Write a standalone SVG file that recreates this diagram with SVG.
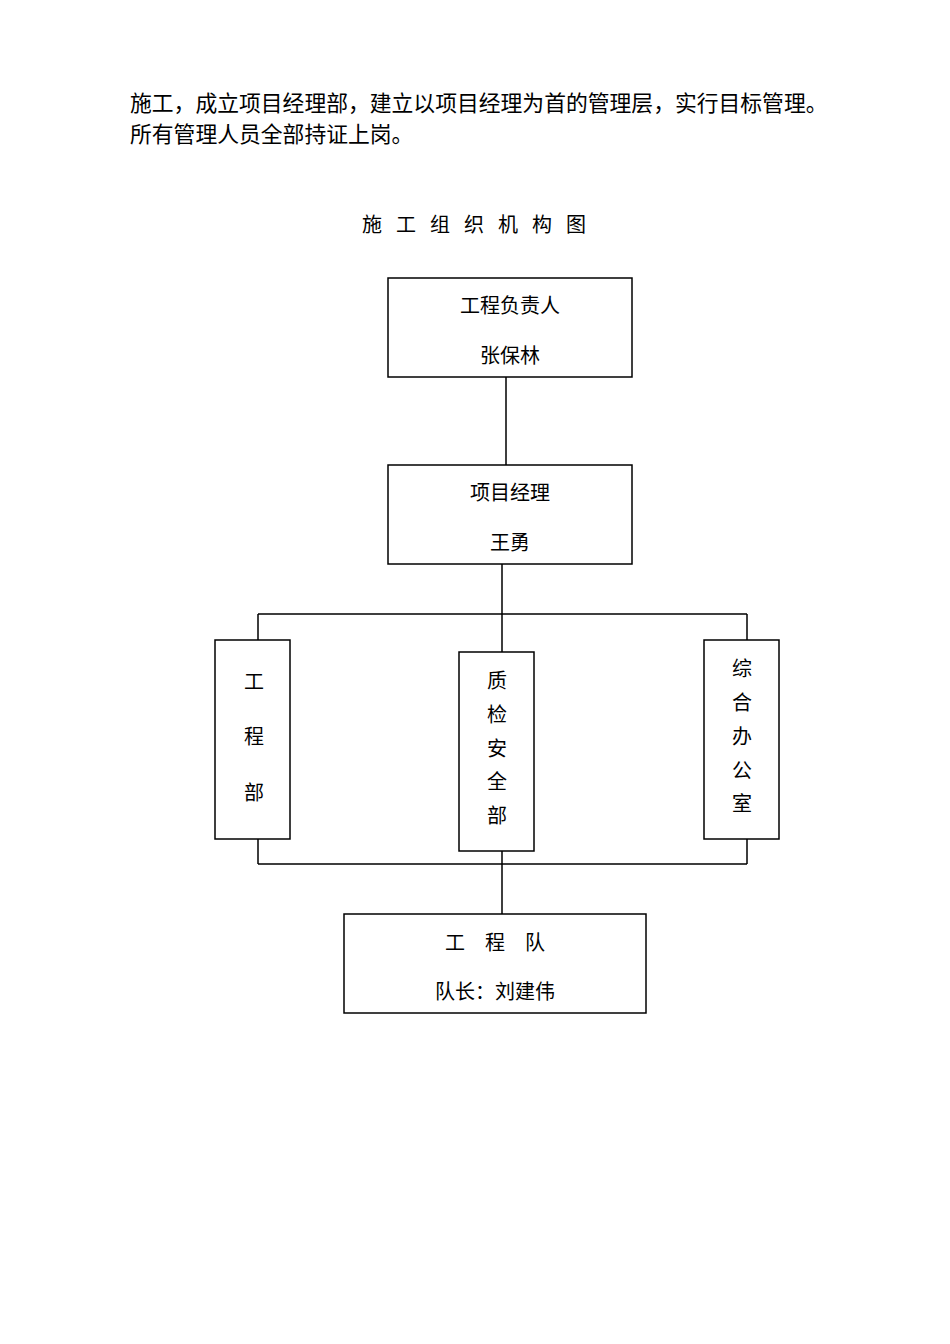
<svg xmlns="http://www.w3.org/2000/svg" width="950" height="1344" viewBox="0 0 950 1344">
<style>
text{font-family:"Liberation Serif","Noto Sans CJK SC",serif;font-size:20px;fill:#000}
.c{text-anchor:middle}
.p{font-size:21.8px}
.b{fill:none;stroke:#000;stroke-width:1.5}
.l{stroke:#000;stroke-width:1.5;fill:none}
</style>
<rect width="950" height="1344" fill="#fff"/>
<text class="p" x="130" y="111">施工，成立项目经理部，建立以项目经理为首的管理层，实行目标管理。</text>
<text class="p" x="130" y="142">所有管理人员全部持证上岗。</text>
<text x="362" y="232" style="letter-spacing:14px">施工组织机构图</text>
<g id="connectors">
<path class="l" d="M506 377V465M502 564V614M258 614H747M258 614V640M502 614V652M747 614V640M258 839V864M747 839V864M502 851V914M258 864H747"/>
</g>
<g id="n1"><rect class="b" x="388" y="278" width="244" height="99"/><text class="c" x="510" y="313">工程负责人</text><text class="c" x="510" y="363">张保林</text></g>
<g id="n2"><rect class="b" x="388" y="465" width="244" height="99"/><text class="c" x="510" y="500">项目经理</text><text class="c" x="510" y="550">王勇</text></g>
<g id="n3"><rect class="b" x="215" y="640" width="75" height="199"/><text class="c" x="254" y="689">工</text><text class="c" x="254" y="744">程</text><text class="c" x="254" y="800">部</text></g>
<g id="n4"><rect class="b" x="459" y="652" width="75" height="199"/><text class="c" x="497" y="688">质</text><text class="c" x="497" y="722">检</text><text class="c" x="497" y="756">安</text><text class="c" x="497" y="789">全</text><text class="c" x="497" y="823">部</text></g>
<g id="n5"><rect class="b" x="704" y="640" width="75" height="199"/><text class="c" x="742" y="676">综</text><text class="c" x="742" y="710">合</text><text class="c" x="742" y="744">办</text><text class="c" x="742" y="778">公</text><text class="c" x="742" y="811">室</text></g>
<g id="n6"><rect class="b" x="344" y="914" width="302" height="99"/><text class="c" x="495" y="950" xml:space="preserve">工　程　队</text><text class="c" x="495" y="999">队长：刘建伟</text></g>
</svg>
